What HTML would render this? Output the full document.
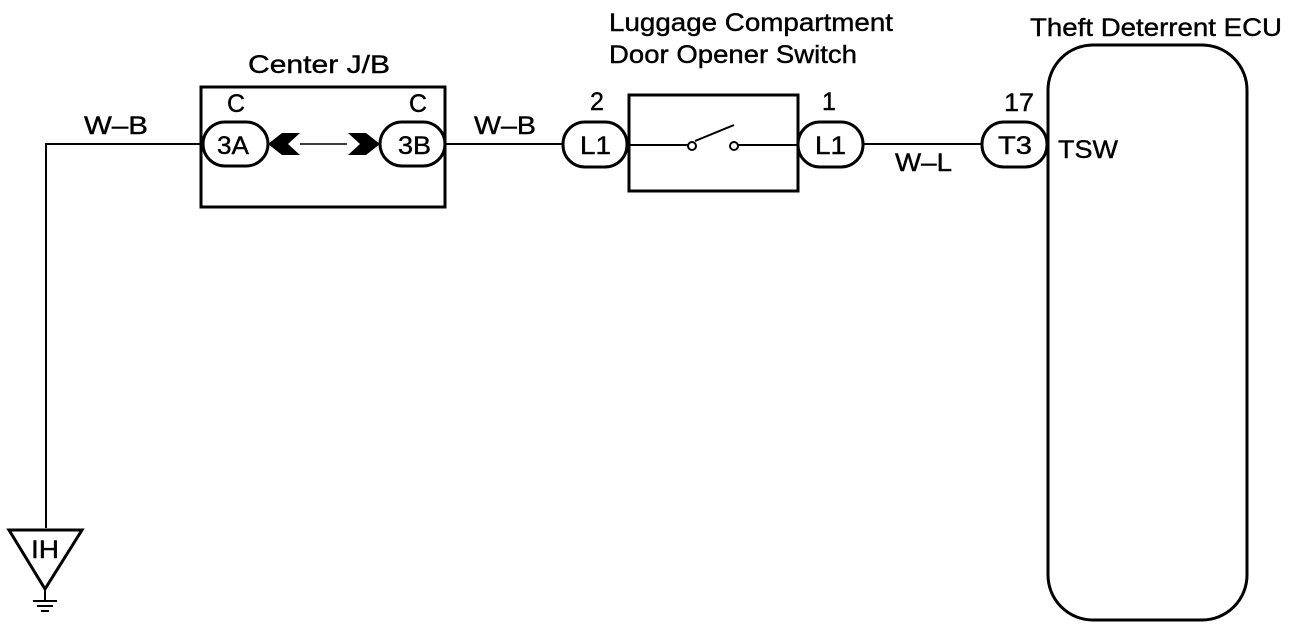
<!DOCTYPE html>
<html><head><style>
html,body{margin:0;padding:0;background:#fff;}
svg{display:block;}
text{font-family:"Liberation Sans",Arial,sans-serif;fill:#000;stroke:#000;stroke-width:0.4;}
</style></head><body>
<svg width="1312" height="628" viewBox="0 0 1312 628" xmlns="http://www.w3.org/2000/svg">
<g fill="none" stroke="#000" stroke-width="2">
<polyline points="46,528 46,144 203,144"/>
<line x1="445" y1="144" x2="563" y2="144"/>
<line x1="627" y1="144" x2="798" y2="144"/>
<line x1="863" y1="144" x2="982" y2="144"/>
<line x1="300" y1="144" x2="347" y2="144" stroke-width="1.5"/>
</g>
<g fill="none" stroke="#000" stroke-width="3">
<rect x="201" y="87" width="244" height="120"/>
<rect x="629" y="95" width="169" height="96" fill="#fff"/>
<rect x="1048" y="45" width="199" height="575" rx="45" ry="45"/>
<rect x="203" y="122" width="65" height="44" rx="22" fill="#fff"/>
<rect x="380" y="122" width="65" height="44" rx="22" fill="#fff"/>
<rect x="563" y="122" width="64" height="45" rx="22" fill="#fff"/>
<rect x="798" y="122" width="65" height="45" rx="22" fill="#fff"/>
<rect x="982" y="122" width="65" height="45" rx="22" fill="#fff"/>
<polygon points="9,530 82,530 45,589"/>
</g>
<g stroke="#000" stroke-width="2" fill="none">
<line x1="629" y1="145" x2="688" y2="145"/>
<line x1="738" y1="145" x2="798" y2="145"/>
<line x1="695" y1="141" x2="734" y2="125"/>
<circle cx="692" cy="146" r="4" fill="#fff"/>
<circle cx="734" cy="146" r="4" fill="#fff"/>
<line x1="45" y1="589" x2="45" y2="600"/>
<line x1="33" y1="601" x2="57" y2="601"/>
<line x1="37" y1="606" x2="53" y2="606"/>
<line x1="41" y1="611" x2="49" y2="611"/>
</g>
<polygon points="268,144 282,133 300,133 288,144 300,155 282,155" fill="#000"/>
<polygon points="380,144 366,133 348,133 360,144 348,155 366,155" fill="#000"/>
<g font-size="25">
<text x="217" y="154" textLength="32" lengthAdjust="spacingAndGlyphs">3A</text>
<text x="398" y="154" textLength="33" lengthAdjust="spacingAndGlyphs">3B</text>
<text x="580" y="154" textLength="31" lengthAdjust="spacingAndGlyphs">L1</text>
<text x="815" y="154" textLength="31" lengthAdjust="spacingAndGlyphs">L1</text>
<text x="998" y="154" textLength="34" lengthAdjust="spacingAndGlyphs">T3</text>
<text x="236" y="112" text-anchor="middle">C</text>
<text x="418" y="112" text-anchor="middle">C</text>
<text x="597" y="110" text-anchor="middle">2</text>
<text x="829" y="110" text-anchor="middle">1</text>
<text x="1004" y="111" textLength="30" lengthAdjust="spacingAndGlyphs">17</text>
<text x="1058" y="158" textLength="60" lengthAdjust="spacingAndGlyphs">TSW</text>
<text x="84" y="134" textLength="64" lengthAdjust="spacingAndGlyphs">W–B</text>
<text x="474" y="134" textLength="62" lengthAdjust="spacingAndGlyphs">W–B</text>
<text x="895" y="171" textLength="57" lengthAdjust="spacingAndGlyphs">W–L</text>
<text x="248" y="73" textLength="142" lengthAdjust="spacingAndGlyphs">Center J/B</text>
<text x="609" y="31" textLength="284" lengthAdjust="spacingAndGlyphs">Luggage Compartment</text>
<text x="609" y="63" textLength="248" lengthAdjust="spacingAndGlyphs">Door Opener Switch</text>
<text x="1030" y="36" textLength="252" lengthAdjust="spacingAndGlyphs">Theft Deterrent ECU</text>
<text x="31" y="558" textLength="28" lengthAdjust="spacingAndGlyphs">IH</text>
</g>
</svg>
</body></html>
